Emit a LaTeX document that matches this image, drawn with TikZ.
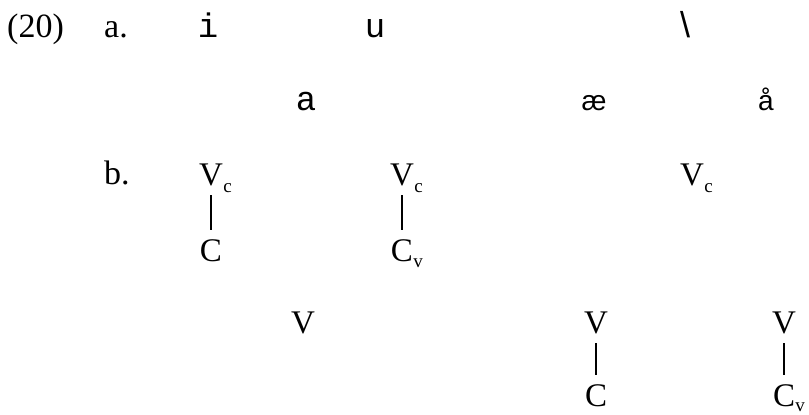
\documentclass[tikz,border=0pt]{standalone}
\usepackage{fontspec}
\setmainfont{Liberation Serif}
\newfontfamily\monof{Liberation Mono}
\newfontfamily\sansf{Liberation Sans}
\usetikzlibrary{calc}
\begin{document}
\begin{tikzpicture}[x=1pt,y=-1pt,
  lbl/.style={inner sep=0pt, font=\fontsize{33}{40}\selectfont, anchor=base},
  lblw/.style={inner sep=0pt, font=\fontsize{34}{40}\selectfont, anchor=base west},
  mono/.style={inner sep=0pt, font=\monof\fontsize{34}{40}\selectfont, anchor=base},
  sans/.style={inner sep=0pt, font=\sansf\fontsize{28}{34}\selectfont, anchor=base},
  sub/.style={inner sep=0pt, font=\fontsize{19}{24}\selectfont, anchor=base west},
  link/.style={line width=1.3pt, shorten <=10pt, shorten >=9pt}]
\useasboundingbox (0,0) rectangle (809,415);
% row a
\node[lblw] (ex) at (7,37) {(20)};
\node[lblw] (la) at (104,37) {a.};
\node[mono] (i) at (208,37) {i};
\node[mono] (u) at (375,37) {u};
\node[sans, font=\sansf\fontsize{36}{40}\selectfont] (bs) at (685,37) {\textbackslash};
\node[mono] (a) at (306,110) {a};
\node[sans] (ae) at (594,110) {æ};
\node[sans] (ar) at (766,110) {å};
% row b
\node[lblw] (lb) at (104,184) {b.};
\node[lbl] (v1) at (211,185) {V};
\node[sub] (v1s) at ($(v1.base east)+(0,7)$) {c};
\node[lbl] (c1) at (211,261) {C};
\draw[link] (v1.base) -- (v1.base |- c1.north);
\node[lbl] (v2) at (402,185) {V};
\node[sub] (v2s) at ($(v2.base east)+(0,7)$) {c};
\node[lbl] (c2) at (402,261) {C};
\node[sub] (c2s) at ($(c2.base east)+(0,6)$) {v};
\draw[link] (v2.base) -- (v2.base |- c2.north);
\node[lbl] (v3) at (692,185) {V};
\node[sub] (v3s) at ($(v3.base east)+(0,7)$) {c};
% bottom row
\node[lbl] (v4) at (303,333) {V};
\node[lbl] (v5) at (596,333) {V};
\node[lbl] (c5) at (596,406) {C};
\draw[link] (v5.base) -- (v5.base |- c5.north);
\node[lbl] (v6) at (784,333) {V};
\node[lbl] (c6) at (784,406) {C};
\node[sub] (c6s) at ($(c6.base east)+(0,5)$) {v};
\draw[link] (v6.base) -- (v6.base |- c6.north);
\end{tikzpicture}
\end{document}
